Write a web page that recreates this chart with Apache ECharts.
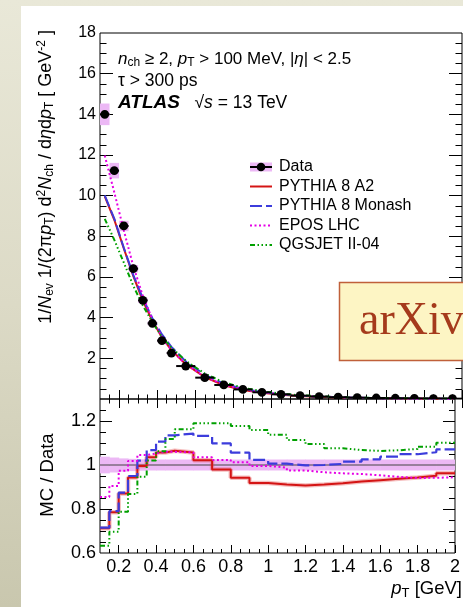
<!DOCTYPE html>
<html>
<head>
<meta charset="utf-8">
<script src="https://cdn.jsdelivr.net/npm/echarts@6/dist/echarts.min.js"></script>
<style>
  html, body { margin: 0; padding: 0; width: 463px; height: 607px; overflow: hidden; }
  body { background: linear-gradient(to bottom, #e9e8d8 0%, #dcdac6 50%, #c9c7ae 100%); position: relative; }
  #paper { position: absolute; left: 21px; top: 6px; right: 0; bottom: 0; background: #ffffff; }
  #chart { position: absolute; left: 0; top: 0; width: 463px; height: 607px; }
</style>
</head>
<body>
<div id="paper"></div>
<div id="chart"></div>
<script>
// pT bin edges [GeV]
const binEdges = [0.1, 0.15, 0.2, 0.25, 0.3, 0.35, 0.4, 0.45, 0.5, 0.6, 0.7, 0.8, 0.9, 1.0,
                  1.1, 1.2, 1.3, 1.4, 1.5, 1.6, 1.7, 1.8, 1.9, 2.0];
// measured spectrum, 1/Nev 1/(2 pi pT) d2N/deta dpT [GeV^-2]
const dataValues = [14.0, 11.23, 8.51, 6.41, 4.85, 3.72, 2.87, 2.26, 1.62, 1.05, 0.69, 0.47,
                    0.33, 0.23, 0.165, 0.12, 0.087, 0.064, 0.048, 0.036, 0.027, 0.021, 0.016];
// relative total uncertainty of the measurement
const dataUncert = [0.038, 0.034, 0.03, 0.028, 0.026, 0.025, 0.025, 0.025, 0.025, 0.025, 0.025, 0.025,
                    0.025, 0.025, 0.025, 0.025, 0.025, 0.025, 0.025, 0.025, 0.025, 0.025, 0.025];
// MC / Data ratios per bin
const ratioA2 = [0.712, 0.785, 0.870, 0.943, 0.995, 1.035, 1.057, 1.065, 1.057, 1.022, 0.980, 0.942,
                 0.918, 0.911, 0.907, 0.911, 0.917, 0.925, 0.931, 0.937, 0.943, 0.951, 0.962];
const ratioMonash = [0.715, 0.790, 0.874, 0.950, 1.020, 1.068, 1.106, 1.135, 1.143, 1.132, 1.098, 1.056,
                     1.023, 1.006, 0.998, 1.000, 1.005, 1.015, 1.026, 1.038, 1.049, 1.058, 1.071];
const ratioEPOS = [0.855, 0.905, 0.974, 1.018, 1.045, 1.052, 1.060, 1.060, 1.057, 1.035, 1.023, 1.013,
                   0.996, 0.988, 0.975, 0.967, 0.962, 0.959, 0.953, 0.946, 0.941, 0.942, 0.944];
const ratioQGSJET = [0.633, 0.697, 0.788, 0.868, 0.947, 1.020, 1.062, 1.118, 1.162, 1.190, 1.190, 1.177,
                     1.159, 1.137, 1.114, 1.095, 1.076, 1.068, 1.064, 1.067, 1.073, 1.083, 1.101];
// axis ticks
const xMajorTicks = [0.2, 0.4, 0.6, 0.8, 1.0, 1.2, 1.4, 1.6, 1.8, 2.0];
const xMinorTicks = [0.15, 0.25, 0.3, 0.35, 0.45, 0.5, 0.55, 0.65, 0.7, 0.75, 0.85, 0.9, 0.95,
                     1.05, 1.1, 1.15, 1.25, 1.3, 1.35, 1.45, 1.5, 1.55, 1.65, 1.7, 1.75, 1.85, 1.9, 1.95];
const yMainMajorTicks = [2, 4, 6, 8, 10, 12, 14, 16];
const yMainMinorTicks = [0.5, 1, 1.5, 2.5, 3, 3.5, 4.5, 5, 5.5, 6.5, 7, 7.5, 8.5, 9, 9.5, 10.5, 11, 11.5,
                         12.5, 13, 13.5, 14.5, 15, 15.5, 16.5, 17, 17.5];
const yRatioMajorTicks = [0.8, 1.0, 1.2];
const yRatioMinorTicks = [0.65, 0.7, 0.75, 0.85, 0.9, 0.95, 1.05, 1.1, 1.15, 1.25];
const yMainLabels = [2, 4, 6, 8, 10, 12, 14, 16, 18];
const yRatioLabels = [0.6, 0.8, 1.0, 1.2];
const xLabels = [0.2, 0.4, 0.6, 0.8, 1.0, 1.2, 1.4, 1.6, 1.8, 2.0];

const FONT = "'Liberation Sans', Arial, Helvetica, sans-serif";
const PINK = '#ecb8f5';
const RED = '#d41414', BLUE = '#3c3cdc', MAGENTA = '#e600e6', GREEN = '#00a000';

const nBins = dataValues.length;
const centers = [];
for (let i = 0; i < nBins; i++) centers.push((binEdges[i] + binEdges[i + 1]) / 2);

function fmtNum(v) {
  const r = Math.round(v);
  return Math.abs(v - r) < 1e-9 ? String(r) : v.toFixed(1);
}

// MC spectra along bin centres (ratio times measurement)
function mcCurve(ratio) { return centers.map((c, i) => [c, ratio[i] * dataValues[i]]); }
// step histogram outline over the bin edges
function stepLine(ratio) {
  const pts = [];
  for (let i = 0; i < nBins; i++) { pts.push([binEdges[i], ratio[i]]); pts.push([binEdges[i + 1], ratio[i]]); }
  return pts;
}
const binRows = dataValues.map((v, i) => [binEdges[i], binEdges[i + 1], v, dataUncert[i]]);

function xAx(grid, pos, ticks, len, labels) {
  return {
    type: 'value', gridIndex: grid, position: pos, min: 0.1, max: 2.0,
    axisLine: { show: false }, splitLine: { show: false },
    axisTick: { show: true, inside: true, length: len, customValues: ticks, lineStyle: { color: '#000', width: 1 } },
    axisLabel: labels ? { show: true, customValues: labels, formatter: fmtNum, margin: 5, color: '#000', fontSize: 18, fontFamily: FONT } : { show: false }
  };
}
function yAx(grid, pos, min, max, ticks, len, labels, fs) {
  return {
    type: 'value', gridIndex: grid, position: pos, min: min, max: max,
    axisLine: { show: false }, splitLine: { show: false },
    axisTick: { show: true, inside: true, length: len, customValues: ticks, lineStyle: { color: '#000', width: 1 } },
    axisLabel: labels ? { show: true, customValues: labels, formatter: fmtNum, margin: 4, color: '#000', fontSize: fs, fontFamily: FONT } : { show: false }
  };
}

const chart = echarts.init(document.getElementById('chart'), null, { renderer: 'canvas' });

const lineSeries = (name, data, xi, yi, color, type, width, z) => ({
  name: name, type: 'line', xAxisIndex: xi, yAxisIndex: yi, data: data, showSymbol: false, symbol: 'none',
  lineStyle: { color: color, width: width, type: type }, z: z, silent: true, animation: false, clip: true
});

const dashBlue = [12, 4];
const dotMag = [2, 2.5];
const dashGreen = [5, 2.5, 1.5, 2.5, 1.5, 2.5, 1.5, 2.5];

function richSet(fs) {
  const s = Math.round(fs * 0.68), off = Math.round(fs * 0.45);
  return {
    n: { fontSize: fs, fontFamily: FONT, fill: '#000' },
    i: { fontStyle: 'italic', fontSize: fs, fontFamily: FONT, fill: '#000' },
    sub: { fontSize: s, padding: [off, 0, 0, 0], fontFamily: FONT, fill: '#000' },
    sup: { fontSize: s, padding: [0, 0, off, 0], fontFamily: FONT, fill: '#000' },
    bi: { fontStyle: 'italic', fontWeight: 'bold', fontSize: fs + 1.5, fontFamily: FONT, fill: '#000' }
  };
}

function richText(x, y, text, fs, opts) {
  return Object.assign({
    type: 'text', x: x, y: y, silent: true,
    style: Object.assign({ text: text, rich: richSet(fs), fontSize: fs, fontFamily: FONT, fill: '#000',
      align: 'left', verticalAlign: 'middle' }, opts && opts.style)
  }, opts && opts.el);
}

// legend entries
const legX0 = 250, legX1 = 272, legTextX = 279;
const legRows = [167, 186.5, 206, 225.5, 245];
const legendGraphics = [
  { type: 'rect', shape: { x: legX0, y: legRows[0] - 4.5, width: legX1 - legX0, height: 9 }, style: { fill: PINK }, silent: true },
  { type: 'line', shape: { x1: legX0, y1: legRows[0], x2: legX1, y2: legRows[0] }, style: { stroke: '#000', lineWidth: 2 }, silent: true },
  { type: 'circle', shape: { cx: (legX0 + legX1) / 2, cy: legRows[0], r: 4.3 }, style: { fill: '#000' }, silent: true },
  { type: 'line', shape: { x1: legX0, y1: legRows[1], x2: legX1, y2: legRows[1] }, style: { stroke: RED, lineWidth: 2 }, silent: true },
  { type: 'line', shape: { x1: legX0, y1: legRows[2], x2: legX1, y2: legRows[2] }, style: { stroke: BLUE, lineWidth: 2, lineDash: dashBlue }, silent: true },
  { type: 'line', shape: { x1: legX0, y1: legRows[3], x2: legX1, y2: legRows[3] }, style: { stroke: MAGENTA, lineWidth: 2, lineDash: dotMag }, silent: true },
  { type: 'line', shape: { x1: legX0, y1: legRows[4], x2: legX1, y2: legRows[4] }, style: { stroke: GREEN, lineWidth: 2, lineDash: dashGreen }, silent: true },
  richText(legTextX, legRows[0], 'Data', 16),
  richText(legTextX, legRows[1], 'PYTHIA 8 A2', 16),
  richText(legTextX, legRows[2], 'PYTHIA 8 Monash', 16),
  richText(legTextX, legRows[3], 'EPOS LHC', 16),
  richText(legTextX, legRows[4], 'QGSJET II-04', 16)
];

const option = {
  animation: false,
  backgroundColor: 'transparent',
  grid: [
    { left: 100, top: 33, width: 362, height: 366, show: true, borderColor: '#000', borderWidth: 1, backgroundColor: 'transparent' },
    { left: 100, top: 399, width: 362, height: 154, show: true, borderColor: '#000', borderWidth: 1, backgroundColor: 'transparent' }
  ],
  xAxis: [
    xAx(0, 'bottom', xMajorTicks, 9, null),
    xAx(0, 'bottom', xMinorTicks, 4.5, null),
    xAx(0, 'top', xMajorTicks, 9, null),
    xAx(0, 'top', xMinorTicks, 4.5, null),
    xAx(1, 'bottom', xMajorTicks, 8, xLabels),
    xAx(1, 'bottom', xMinorTicks, 4, null)
  ],
  yAxis: [
    yAx(0, 'left', 0, 18, yMainMajorTicks, 13, yMainLabels, 16),
    yAx(0, 'left', 0, 18, yMainMinorTicks, 6.5, null),
    yAx(0, 'right', 0, 18, yMainMajorTicks, 13, null),
    yAx(0, 'right', 0, 18, yMainMinorTicks, 6.5, null),
    yAx(1, 'left', 0.6, 1.3, yRatioMajorTicks, 12, yRatioLabels, 18),
    yAx(1, 'left', 0.6, 1.3, yRatioMinorTicks, 6, null),
    yAx(1, 'right', 0.6, 1.3, yRatioMajorTicks, 12, null),
    yAx(1, 'right', 0.6, 1.3, yRatioMinorTicks, 6, null)
  ],
  series: [
    // measurement uncertainty boxes
    {
      type: 'custom', xAxisIndex: 0, yAxisIndex: 0, data: binRows, z: 1, silent: true, clip: true,
      renderItem: function (params, api) {
        const lo = api.value(0), hi = api.value(1), v = api.value(2), e = api.value(3);
        const a = api.coord([lo, v * (1 + e)]), b = api.coord([hi, v * (1 - e)]);
        return { type: 'rect', shape: { x: a[0], y: a[1], width: b[0] - a[0], height: b[1] - a[1] }, style: { fill: PINK } };
      }
    },
    lineSeries('PYTHIA 8 A2', mcCurve(ratioA2), 0, 0, RED, 'solid', 2, 3),
    lineSeries('PYTHIA 8 Monash', mcCurve(ratioMonash), 0, 0, BLUE, dashBlue, 2, 3),
    lineSeries('EPOS LHC', mcCurve(ratioEPOS), 0, 0, MAGENTA, dotMag, 2, 3),
    lineSeries('QGSJET II-04', mcCurve(ratioQGSJET), 0, 0, GREEN, dashGreen, 2, 3),
    // measured points with bin-width bars
    {
      type: 'custom', xAxisIndex: 0, yAxisIndex: 0, data: binRows, z: 6, silent: true, clip: true,
      renderItem: function (params, api) {
        const lo = api.value(0), hi = api.value(1), v = api.value(2);
        const pl = api.coord([lo, v]), ph = api.coord([hi, v]), c = api.coord([(lo + hi) / 2, v]);
        return { type: 'group', children: [
          { type: 'line', shape: { x1: pl[0], y1: pl[1], x2: ph[0], y2: ph[1] }, style: { stroke: '#000', lineWidth: 2 } },
          { type: 'circle', shape: { cx: c[0], cy: c[1], r: 4.4 }, style: { fill: '#000' } }
        ] };
      }
    },
    // ratio panel: measurement band
    {
      type: 'custom', xAxisIndex: 4, yAxisIndex: 4, data: binRows, z: 1, silent: true, clip: true,
      renderItem: function (params, api) {
        const lo = api.value(0), hi = api.value(1), e = api.value(3);
        const a = api.coord([lo, 1 + e]), b = api.coord([hi, 1 - e]);
        return { type: 'rect', shape: { x: a[0], y: a[1], width: b[0] - a[0] + 0.5, height: b[1] - a[1] }, style: { fill: PINK } };
      }
    },
    lineSeries('unity', [[0.1, 1], [2.0, 1]], 4, 4, '#444', 'solid', 1, 2),
    lineSeries('A2 band', stepLine(ratioA2), 4, 4, 'rgba(225,70,70,0.35)', 'solid', 4.5, 3),
    lineSeries('A2 ratio', stepLine(ratioA2), 4, 4, RED, 'solid', 2, 4),
    lineSeries('Monash ratio', stepLine(ratioMonash), 4, 4, BLUE, dashBlue, 2.2, 4),
    lineSeries('EPOS ratio', stepLine(ratioEPOS), 4, 4, MAGENTA, dotMag, 2, 4),
    lineSeries('QGSJET ratio', stepLine(ratioQGSJET), 4, 4, GREEN, dashGreen, 2, 4)
  ],
  graphic: [
    // labels inside the main panel
    richText(118, 59, '{i|n}{sub|ch} ≥ 2, {i|p}{sub|T} > 100 MeV, |{i|η}| < 2.5', 17),
    richText(118, 81, 'τ > 300 ps', 17.5),
    richText(118, 103, '{bi|ATLAS}   √{i|s} = 13 TeV', 17.5),
    // axis titles
    richText(46, 30, '1/{i|N}{sub|ev} 1/(2π{i|p}{sub|T}) d{sup|2}{i|N}{sub|ch} / d{i|η}d{i|p}{sub|T} [ GeV{sup|-2} ]', 18,
      { el: { rotation: Math.PI / 2 }, style: { align: 'right' } }),
    richText(48, 475, 'MC / Data', 18.5, { el: { rotation: Math.PI / 2 }, style: { align: 'center' } }),
    richText(462, 589, '{i|p}{sub|T} [GeV]', 18.5, { style: { align: 'right' } }),
    // arXiv stamp
    { type: 'rect', shape: { x: 339.5, y: 282.5, width: 140, height: 78 }, style: { fill: '#fdf5c4', stroke: '#c0603a', lineWidth: 1.5 }, silent: true, z: 50 },
    { type: 'text', x: 359, y: 322, silent: true, z: 51,
      style: { text: 'arXiv', fontSize: 46, fontFamily: "'Liberation Serif', 'DejaVu Serif', serif", fill: '#a53a1c', align: 'left', verticalAlign: 'middle' } }
  ].concat(legendGraphics)
};

chart.setOption(option);
</script>
</body>
</html>
